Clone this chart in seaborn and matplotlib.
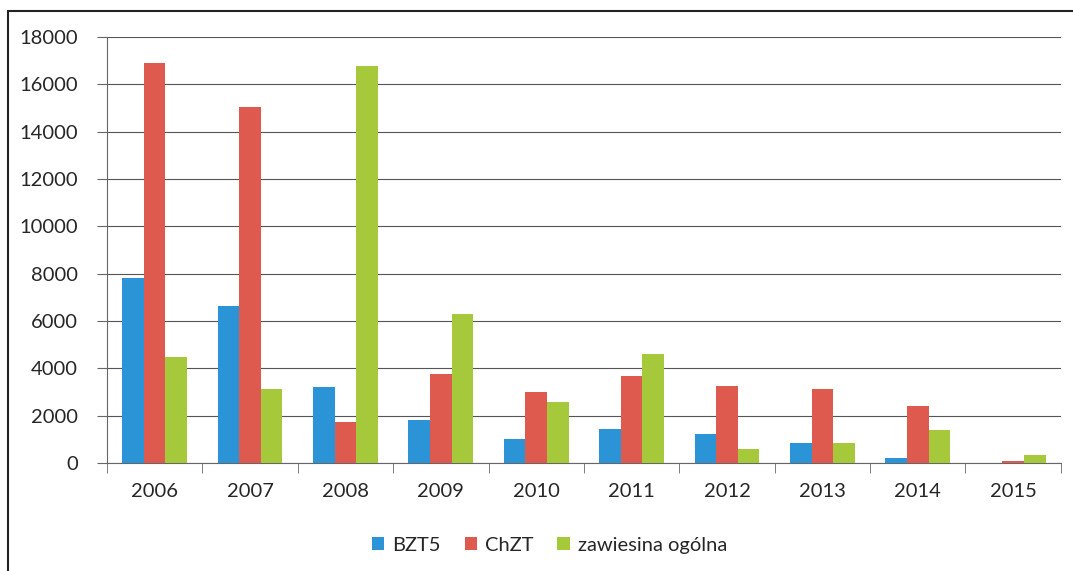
import pandas as pd
import matplotlib.pyplot as plt
import matplotlib.patches as mpatches
import seaborn as sns

# Values
years = ["2006", "2007", "2008", "2009", "2010", "2011", "2012", "2013", "2014", "2015"]
bzt5 = [7800, 6650, 3230, 1820, 1030, 1450, 1220, 830, 230, 0]
chzt = [16900, 15050, 1720, 3780, 3020, 3700, 3250, 3110, 2410, 100]
zawiesina = [4490, 3150, 16800, 6280, 2600, 4610, 600, 860, 1380, 350]
series = ["BZT5", "ChZT", "zawiesina ogólna"]
colors = ["#2B94D6", "#DE5A4F", "#A5C93A"]

df = pd.DataFrame({"rok": years * 3,
                   "wartosc": bzt5 + chzt + zawiesina,
                   "seria": [s for s in series for _ in years]})

sns.set_style("white")
plt.rcParams["font.family"] = ["Lato", "DejaVu Sans"]

fig = plt.figure(figsize=(10.73, 5.71), dpi=100)
ax = fig.add_axes([0.0997, 0.189, 0.889, 0.746])

sns.barplot(data=df, x="rok", y="wartosc", hue="seria", palette=colors,
            width=0.68, saturation=1, linewidth=0, ax=ax, zorder=3)

# Format plot
ax.set_ylim(0, 18000)
ax.set_xlim(-0.5, 9.5)
ax.set_yticks(range(0, 18001, 2000))
ax.grid(axis="y", color="#555555", linewidth=0.8, zorder=0)
ax.set_xlabel("")
ax.set_ylabel("")
for side in ["top", "right"]:
    ax.spines[side].set_visible(False)
ax.spines["left"].set_color("#666666")
ax.spines["bottom"].set_color("#666666")
ax.tick_params(axis="y", labelsize=14.5, length=7, color="#666666", left=True, pad=14)
ax.tick_params(axis="x", which="major", labelsize=14.5, length=0, pad=14)
ax.set_xticks([i - 0.5 for i in range(11)], minor=True)
ax.tick_params(axis="x", which="minor", length=7, color="#666666", bottom=True)

ax.legend(ncol=3, loc="center", bbox_to_anchor=(0.512, 0.045),
          bbox_transform=fig.transFigure, frameon=False, fontsize=14.5,
          handlelength=0.6, handleheight=0.6, handletextpad=0.4, columnspacing=1.2)

# Outer chart frame
fig.patches.append(mpatches.Rectangle((0.0075, -0.1), 1.2, 0.1 + 0.981,
                                      transform=fig.transFigure, fill=False,
                                      edgecolor="#222222", linewidth=1.5))

plt.savefig("out.png", dpi=100)
